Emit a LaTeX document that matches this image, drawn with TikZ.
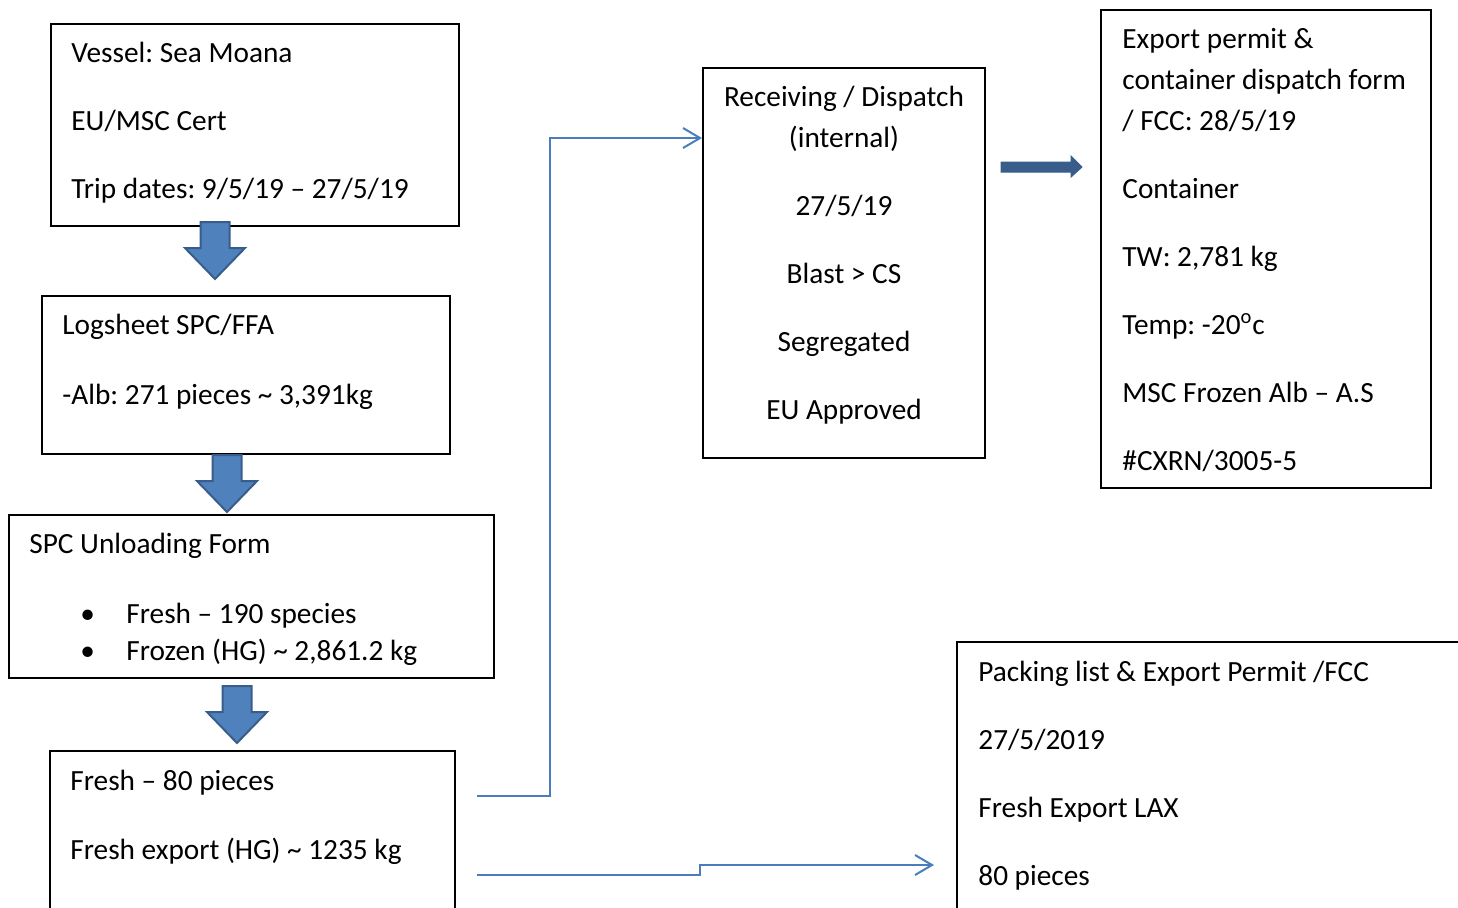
\documentclass[tikz,border=0pt]{standalone}
\usepackage{fontspec}
\setmainfont{Carlito}
\frenchspacing
\usetikzlibrary{arrows.meta,fit,calc}

\definecolor{connblue}{RGB}{74,126,187}
\definecolor{blockfill}{RGB}{79,129,189}
\definecolor{blockedge}{RGB}{56,93,138}

\tikzset{
  box/.style={draw=black, line width=1pt, inner sep=0pt},
  txt/.style={align=left, inner sep=0pt, anchor=north west, font=\fontsize{14.65pt}{20.5pt}\selectfont},
  link/.style={draw=connblue, line width=1pt, line join=miter},
  conn/.style={link, -{Straight Barb[length=8.5pt,width=10pt]}},
  blockarrow/.style={fill=blockfill, draw=blockedge, line width=1pt, line join=miter},
}

% down block arrow, #1 = top centre
\newcommand{\blockdown}[1]{%
  \draw[blockarrow] (#1) ++(-14.5,0) -- ++(29,0) -- ++(0,26) -- ++(15.5,0)
    -- ++(-30,31) -- ++(-30,-31) -- ++(15.5,0) -- cycle;}

\begin{document}
\begin{tikzpicture}[x=0.5pt, y=-0.5pt]
\useasboundingbox (0,0) rectangle (1458,907);
\clip (0,0) rectangle (1458,907);

% Left column of forms
\node[box, fit={(51,24) (459,226)}] (vessel) {};
\node[txt] (vesseltxt) at (71,41.5) {Vessel: Sea Moana\\[13.5pt]
  EU/MSC Cert\\[13.5pt]
  Trip dates: 9/5/19 -- 27/5/19};

\node[box, fit={(42,296) (450,454)}] (logsheet) {};
\node[txt] (logsheettxt) at (62,313.5) {Logsheet SPC/FFA\\[14.5pt]
  -Alb: 271 pieces \textasciitilde{} 3,391kg};

\node[box, fit={(9,515) (494,678)}] (unload) {};
\node[txt] (unloadtxt) at (29,532.5) {SPC Unloading Form\\[14.5pt]
  \hspace*{25.5pt}\makebox[23pt][l]{•}Fresh -- 190 species\\[-2pt]
  \hspace*{25.5pt}\makebox[23pt][l]{•}Frozen (HG) \textasciitilde{} 2,861.2 kg};

\node[box, fit={(50,751) (455,930)}] (fresh) {};
\node[txt] (freshtxt) at (70,769.5) {Fresh -- 80 pieces\\[14pt]
  Fresh export (HG) \textasciitilde{} 1235 kg};

% Receiving / dispatch
\node[box, fit={(703,68) (985,458)}] (recv) {};
\node[txt, align=center, anchor=north] (recvtxt) at (844,85.5) {Receiving / Dispatch\\
  (internal)\\[13.5pt]
  27/5/19\\[13.5pt]
  Blast > CS\\[13.5pt]
  Segregated\\[13.5pt]
  EU Approved};

% Export permit
\node[box, fit={(1101,10) (1431,488)}] (permit) {};
\node[txt] (permittxt) at (1122,27.5) {Export permit \&\\
  container dispatch form\\
  / FCC: 28/5/19\\[13.5pt]
  Container\\[13.5pt]
  TW: 2,781 kg\\[13.5pt]
  Temp: -20\textsuperscript{o}c\\[13.5pt]
  MSC Frozen Alb -- A.S\\[13.5pt]
  \#CXRN/3005-5};

% Packing list
\node[box, fit={(957,642) (1470,930)}] (pack) {};
\node[txt] (packtxt) at (978,660.5) {Packing list \& Export Permit /FCC\\[13.5pt]
  27/5/2019\\[13.5pt]
  Fresh Export LAX\\[13.5pt]
  80 pieces};

% Block arrows
\blockdown{215,222}
\blockdown{227,455}
\blockdown{237,686}
\draw[blockarrow, fill=blockedge, line width=0.5pt]
  (1001,162) -- (1071,162) -- (1071,156) -- (1082,167) -- (1071,177)
  -- (1071,172) -- (1001,172) -- cycle;

% Connectors
\coordinate (freshout1) at (477,796);
\coordinate (freshout2) at (477,875);
\coordinate (recvin) at ($(recv.north west)+(0,71)$);
\coordinate (packin) at ($(pack.north west)+(-22,224)$);
\draw[conn] (freshout1) -- (550,796) |- (recvin);
\draw[conn] (freshout2) -- (700,875) |- (packin);

\end{tikzpicture}
\end{document}
